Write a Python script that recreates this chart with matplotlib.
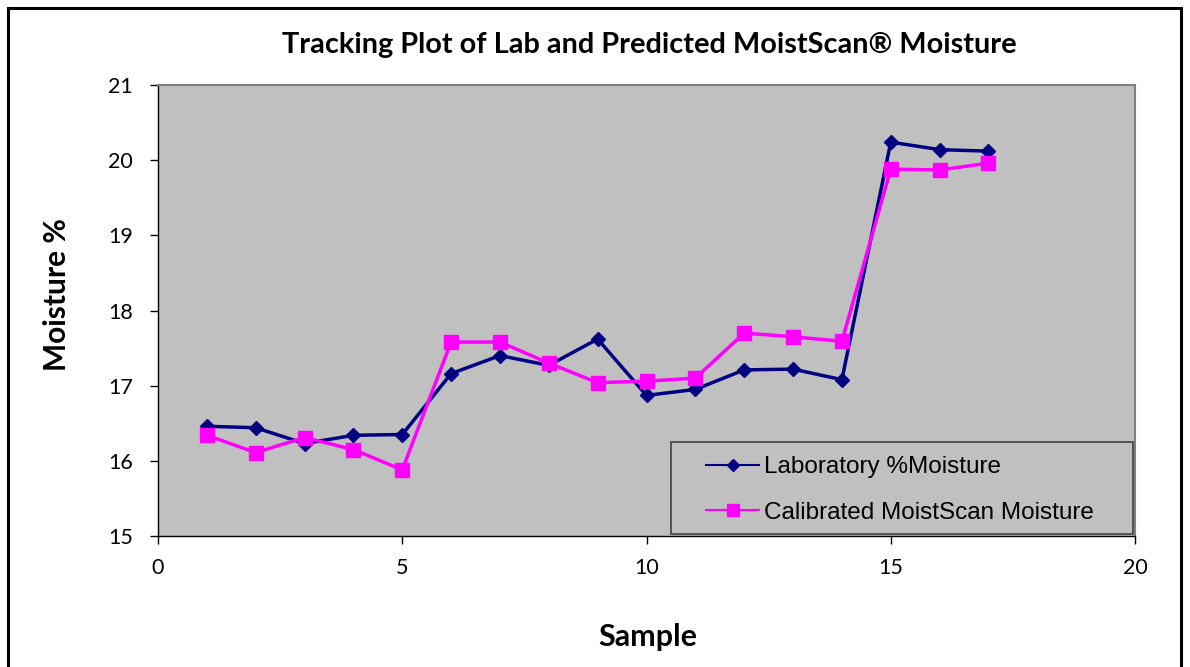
import matplotlib
matplotlib.use("Agg")
from matplotlib import pyplot as plt
from matplotlib.patches import Rectangle

# Values
samples = list(range(1, 18))
lab_moisture = [16.46, 16.44, 16.23, 16.34, 16.35, 17.16, 17.40, 17.27, 17.62,
                16.87, 16.95, 17.21, 17.22, 17.08, 20.24, 20.14, 20.12]
moistscan_moisture = [16.34, 16.11, 16.31, 16.15, 15.88, 17.58, 17.58, 17.30, 17.04,
                      17.06, 17.10, 17.70, 17.65, 17.59, 19.88, 19.87, 19.96]

series_labels = ["Laboratory %Moisture", "Calibrated MoistScan Moisture"]
title = "Tracking Plot of Lab and Predicted MoistScan® Moisture"
x_ticks = [0, 5, 10, 15, 20]
y_ticks = [15, 16, 17, 18, 19, 20, 21]

W, H = 1190, 667
fig = plt.figure(figsize=(W / 100, H / 100), dpi=100)
ax = fig.add_axes([158 / W, 1 - 536 / H, (1135 - 158) / W, (536 - 85) / H])

# outer chart border
fig.patches.append(Rectangle((8 / W, -0.05), (1181 - 8) / W, 1.05 - 8 / H,
                             transform=fig.transFigure, fill=False,
                             edgecolor="black", linewidth=2.2))

ax.set_facecolor("#c0c0c0")
ax.plot(samples, lab_moisture, color="#000080", marker="D", markersize=7.5,
        linewidth=2.5, label=series_labels[0], clip_on=False)
ax.plot(samples, moistscan_moisture, color="#ff00ff", marker="s", markersize=10.5,
        linewidth=2.5, label=series_labels[1], clip_on=False)

ax.set_xlim(0, 20)
ax.set_ylim(15, 21)
ax.set_xticks(x_ticks)
ax.set_yticks(y_ticks)

tick_font = "Lato"
for lbl in ax.get_xticklabels() + ax.get_yticklabels():
    lbl.set_fontfamily(tick_font)
    lbl.set_fontsize(15.5)
ax.tick_params(axis="both", direction="out", length=6, width=1, color="black")
ax.tick_params(axis="x", pad=10)
ax.tick_params(axis="y", pad=12)

for side in ["top", "right"]:
    ax.spines[side].set_color("#808080")
    ax.spines[side].set_linewidth(1.5)
for side in ["left", "bottom"]:
    ax.spines[side].set_color("black")
    ax.spines[side].set_linewidth(1)

fig.text(649 / W, 1 - 45 / H, title, ha="center", va="center",
         fontsize=20.8, fontweight="bold", family="Lato")
fig.text(648 / W, 1 - 637 / H, "Sample", ha="center", va="center",
         fontsize=22, fontweight="bold", family="Lato")
fig.text(57 / W, 1 - 295 / H, "Moisture %", ha="center", va="center",
         rotation=90, fontsize=21.5, fontweight="bold", family="Lato")

# legend box drawn separately so the entries can sit inset like the original
fig.patches.append(Rectangle((671 / W, 1 - 534 / H), (1133 - 671) / W, (534 - 442) / H,
                             transform=fig.transFigure, facecolor="#c0c0c0",
                             edgecolor="#404040", linewidth=1.2, zorder=3))
leg = fig.legend(loc="upper left", bbox_to_anchor=(706 / W, 1 - 456 / H),
                 frameon=False, prop={"family": "Liberation Sans", "size": 17.5},
                 handlelength=2.2, handletextpad=0.2, borderpad=0,
                 labelspacing=0.98, borderaxespad=0)
leg.set_zorder(4)
for h in leg.legend_handles:
    h.set_linewidth(1.5)
    h.set_markersize(h.get_markersize() * 0.8)

fig.savefig("out.png", dpi=100)
